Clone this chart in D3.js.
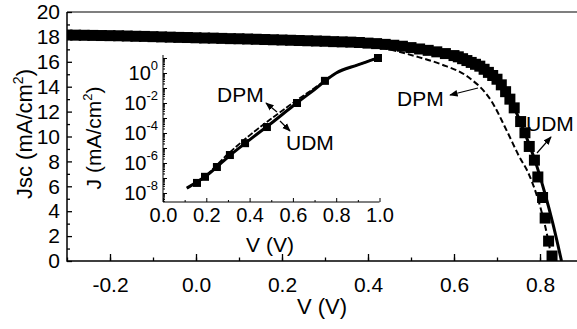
<!DOCTYPE html>
<html>
<head>
<meta charset="utf-8">
<script src="https://cdn.jsdelivr.net/npm/d3@7"></script>
<style>
  body { margin: 0; background: #fff; }
  svg { display: block; font-family: "Liberation Sans", Arial, sans-serif; }
</style>
</head>
<body>
<svg id="chart" width="577" height="329"></svg>
<script>
// measured J-V (squares) under illumination
const expV = [-0.30, -0.28, -0.26, -0.24, -0.22, -0.20, -0.18, -0.16, -0.14, -0.12,
  -0.10, -0.08, -0.06, -0.04, -0.02, 0.00, 0.02, 0.04, 0.06, 0.08,
  0.10, 0.12, 0.14, 0.16, 0.18, 0.20, 0.22, 0.24, 0.26, 0.28,
  0.30, 0.32, 0.34, 0.36, 0.38, 0.40, 0.42, 0.44, 0.46, 0.48,
  0.50, 0.52, 0.54, 0.56, 0.58, 0.60, 0.61, 0.62, 0.63, 0.64,
  0.65, 0.66, 0.67, 0.68, 0.69, 0.70, 0.71, 0.72, 0.73, 0.74,
  0.755, 0.765, 0.775, 0.787, 0.795, 0.806, 0.812, 0.82, 0.828];
const expJ = [18.15, 18.14, 18.13, 18.12, 18.11, 18.10, 18.09, 18.07, 18.05, 18.04,
  18.02, 18.00, 17.98, 17.96, 17.95, 17.93, 17.91, 17.90, 17.88, 17.86,
  17.85, 17.83, 17.81, 17.79, 17.77, 17.75, 17.73, 17.71, 17.69, 17.67,
  17.65, 17.62, 17.60, 17.58, 17.55, 17.50, 17.46, 17.40, 17.33, 17.25,
  17.14, 17.03, 16.92, 16.80, 16.66, 16.50, 16.40, 16.25, 16.10, 15.95,
  15.80, 15.65, 15.40, 15.15, 14.90, 14.60, 14.15, 13.60, 13.00, 12.30,
  11.20, 10.30, 9.20, 8.10, 6.75, 5.10, 3.45, 1.60, 0.40];

// model curves
const udmV = [-0.30, 0.00, 0.30, 0.50, 0.60, 0.65, 0.70, 0.74, 0.77, 0.79, 0.81, 0.83, 0.85];
const udmJ = [18.15, 17.93, 17.65, 17.14, 16.50, 15.80, 14.60, 12.30, 9.80, 7.90, 5.60, 3.00, 0.00];
const dpmV = [-0.30, 0.00, 0.30, 0.42, 0.51, 0.57, 0.632, 0.686, 0.725, 0.75, 0.775, 0.795, 0.81, 0.82, 0.828];
const dpmJ = [18.05, 17.85, 17.55, 17.20, 16.45, 15.80, 14.80, 12.90, 10.30, 8.50, 6.90, 5.00, 3.10, 1.50, 0.00];

// inset: dark J-V on log scale
const insSqV = [0.157, 0.194, 0.249, 0.309, 0.379, 0.480, 0.619, 0.748, 0.993];
const insSqJ = [4.7e-8, 1.2e-7, 5.4e-7, 3.4e-6, 2.1e-5, 2.5e-4, 1.0e-2, 3.0e-1, 1.0e1];
const insUdmV = [0.11, 0.20, 0.30, 0.40, 0.50, 0.60, 0.70, 0.80, 0.90, 0.99];
const insUdmJ = [2.1e-8, 1.4e-7, 2.5e-6, 3.5e-5, 4.5e-4, 6.3e-3, 7.9e-2, 1.0e0, 3.5e0, 1.0e1];
const insDpmJ = [2.1e-8, 1.6e-7, 4.0e-6, 7.0e-5, 9.0e-4, 1.0e-2, 1.0e-1, 1.0e0, 3.5e0, 1.0e1];

const mainXTicks = [-0.2, 0.0, 0.2, 0.4, 0.6, 0.8];
const mainYTicks = [0, 2, 4, 6, 8, 10, 12, 14, 16, 18, 20];
const insXTicks = [0.0, 0.2, 0.4, 0.6, 0.8, 1.0];
const insYExp = [0, -2, -4, -6, -8];

const svg = d3.select('#chart');

// ---- main plot
const x = d3.scaleLinear().domain([-0.3, 0.9]).range([67, 583]);
const y = d3.scaleLinear().domain([0, 20]).range([261, 12]);

svg.append('clipPath').attr('id', 'clipMain')
  .append('rect').attr('x', 67).attr('y', 12).attr('width', 520).attr('height', 249);

const plot = svg.append('g').attr('clip-path', 'url(#clipMain)');

const expData = expV.map((v, i) => ({ v, j: expJ[i] }));
plot.selectAll('rect.sq')
  .data(expData)
  .join('rect')
  .attr('class', 'sq')
  .attr('x', d => x(d.v) - 5.5)
  .attr('y', d => y(d.j) - 5.5)
  .attr('width', 11).attr('height', 11)
  .attr('fill', '#000');

const line = d3.line().x(d => x(d[0])).y(d => y(d[1])).curve(d3.curveMonotoneX);
plot.append('path')
  .attr('d', line(udmV.map((v, i) => [v, udmJ[i]])))
  .attr('fill', 'none').attr('stroke', '#000').attr('stroke-width', 3);
plot.append('path')
  .attr('d', line(dpmV.map((v, i) => [v, dpmJ[i]])))
  .attr('fill', 'none').attr('stroke', '#000').attr('stroke-width', 2)
  .attr('stroke-dasharray', '6,3');

// axes (ticks inside)
const xAxis = d3.axisBottom(x).tickValues(mainXTicks).tickSize(-7).tickPadding(16)
  .tickFormat(d3.format('.1f'));
const gx = svg.append('g').attr('transform', 'translate(0,261)').call(xAxis);
gx.select('.domain').remove();
gx.selectAll('.tick text').attr('font-size', 21).attr('fill', '#000')
  .text(d => d < 0 ? '-' + Math.abs(d).toFixed(1) : d.toFixed(1));
svg.append('g').attr('transform', 'translate(0,261)')
  .call(d3.axisBottom(x).tickValues(d3.range(-0.3, 0.9, 0.1).map(v => +v.toFixed(1)))
    .tickSize(-3.5).tickFormat(''))
  .select('.domain').remove();

const yAxis = d3.axisLeft(y).tickValues(mainYTicks).tickSize(-5).tickPadding(7);
const gy = svg.append('g').attr('transform', 'translate(67,0)').call(yAxis);
gy.select('.domain').remove();
gy.selectAll('.tick text').attr('font-size', 21).attr('fill', '#000');
svg.append('g').attr('transform', 'translate(67,0)')
  .call(d3.axisLeft(y).tickValues(d3.range(1, 20, 2)).tickSize(-3).tickFormat(''))
  .select('.domain').remove();

svg.selectAll('.tick line').attr('stroke', '#000').attr('stroke-width', 1.3);

// frame
svg.append('path').attr('d', 'M67,12V261H577').attr('fill', 'none').attr('stroke', '#000').attr('stroke-width', 1.5);
svg.append('line').attr('x1', 67).attr('x2', 577).attr('y1', 12).attr('y2', 12)
  .attr('stroke', '#000').attr('stroke-width', 1.2);

// labels
svg.append('text').attr('x', 322).attr('y', 314).attr('text-anchor', 'middle')
  .attr('font-size', 22).text('V (V)');
const yl = svg.append('text').attr('transform', 'translate(32,134) rotate(-90)')
  .attr('text-anchor', 'middle').attr('font-size', 22);
yl.append('tspan').text('Jsc (mA/cm');
yl.append('tspan').attr('font-size', 14).attr('dy', -9).text('2');
yl.append('tspan').attr('dy', 9).text(')');

// arrows
const defs = svg.append('defs');
defs.append('marker').attr('id', 'arr').attr('viewBox', '0 0 10 10')
  .attr('refX', 9).attr('refY', 5).attr('markerWidth', 7).attr('markerHeight', 7)
  .attr('orient', 'auto-start-reverse')
  .append('path').attr('d', 'M0,1L10,5L0,9z').attr('fill', '#000');

function arrow(x1, y1, x2, y2) {
  svg.append('line').attr('x1', x1).attr('y1', y1).attr('x2', x2).attr('y2', y2)
    .attr('stroke', '#000').attr('stroke-width', 1.2).attr('marker-end', 'url(#arr)');
}
svg.append('text').attr('x', 397).attr('y', 106).attr('font-size', 21).text('DPM');
arrow(478, 88, 450, 95);
svg.append('text').attr('x', 526).attr('y', 131).attr('font-size', 21).text('UDM');
arrow(537, 153, 551, 137);

// ---- inset
const xi = d3.scaleLinear().domain([0, 1]).range([163, 379.5]);
const yi = d3.scaleLog().domain([Math.pow(10, -8.6), Math.pow(10, 1.2)]).range([202, 55]);

const insLine = d3.line().x(d => xi(d[0])).y(d => yi(d[1])).curve(d3.curveMonotoneX);
svg.append('path')
  .attr('d', insLine(insUdmV.map((v, i) => [v, insDpmJ[i]])))
  .attr('fill', 'none').attr('stroke', '#000').attr('stroke-width', 1.8)
  .attr('stroke-dasharray', '6,2');
svg.append('path')
  .attr('d', insLine(insUdmV.map((v, i) => [v, insUdmJ[i]])))
  .attr('fill', 'none').attr('stroke', '#000').attr('stroke-width', 3);
svg.selectAll('rect.isq')
  .data(insSqV.map((v, i) => ({ v, j: insSqJ[i] })))
  .join('rect')
  .attr('class', 'isq')
  .attr('x', d => xi(d.v) - 4).attr('y', d => yi(d.j) - 4)
  .attr('width', 8).attr('height', 8).attr('fill', '#000');

const gxi = svg.append('g').attr('transform', 'translate(0,202)')
  .call(d3.axisBottom(xi).tickValues(insXTicks).tickSize(-4).tickPadding(6).tickFormat(d3.format('.1f')));
gxi.selectAll('.tick text').attr('font-size', 20).attr('fill', '#000');
gxi.select('.domain').attr('d', 'M163,0H379.5');
svg.append('g').attr('transform', 'translate(0,202)')
  .call(d3.axisBottom(xi).tickValues([0.1, 0.3, 0.5, 0.7, 0.9]).tickSize(-2).tickFormat(''))
  .select('.domain').remove();

// log ticks
const decades = d3.range(-8, 2);
const minor = [];
decades.forEach(e => d3.range(2, 10).forEach(m => minor.push(m * Math.pow(10, e - 1))));
const minorIn = minor.filter(v => v >= yi.domain()[0] && v <= yi.domain()[1]);
svg.append('g').attr('transform', 'translate(163,0)')
  .call(d3.axisLeft(yi).tickValues(minorIn).tickSize(-2).tickFormat(''))
  .select('.domain').remove();
const gyi = svg.append('g').attr('transform', 'translate(163,0)')
  .call(d3.axisLeft(yi).tickValues(decades.map(e => Math.pow(10, e))).tickSize(-4).tickFormat(''));
gyi.select('.domain').attr('d', 'M0,202V55');
insYExp.forEach(e => {
  const t = svg.append('text').attr('x', 158).attr('y', yi(Math.pow(10, e)) + 7)
    .attr('text-anchor', 'end').attr('font-size', 20);
  t.append('tspan').text('10');
  t.append('tspan').attr('font-size', 13).attr('dy', -10).text(e);
});
svg.selectAll('.tick line').attr('stroke', '#000');

svg.append('text').attr('x', 270).attr('y', 252).attr('text-anchor', 'middle')
  .attr('font-size', 21).text('V (V)');
const yli = svg.append('text').attr('transform', 'translate(101,138) rotate(-90)')
  .attr('text-anchor', 'middle').attr('font-size', 21);
yli.append('tspan').text('J (mA/cm');
yli.append('tspan').attr('font-size', 13).attr('dy', -9).text('2');
yli.append('tspan').attr('dy', 9).text(')');

svg.append('text').attr('x', 217).attr('y', 102).attr('font-size', 21).text('DPM');
arrow(277, 112, 266, 103);
svg.append('text').attr('x', 286).attr('y', 150).attr('font-size', 21).text('UDM');
arrow(280, 121, 290, 131);
</script>
</body>
</html>
